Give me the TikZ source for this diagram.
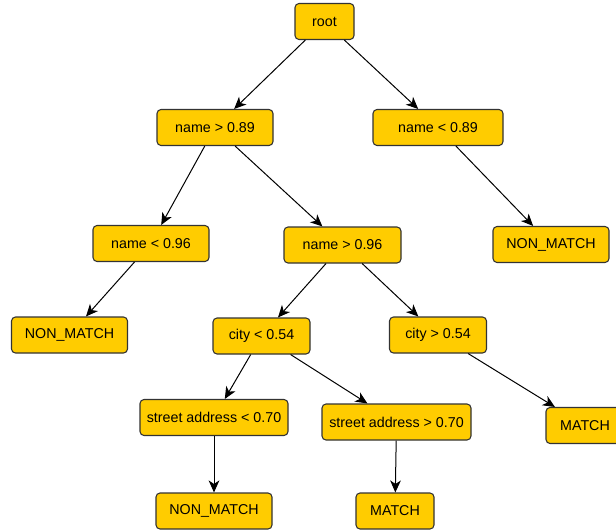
\documentclass[tikz,border=0pt]{standalone}
\usepackage{fontspec}
\setmainfont{Liberation Sans}
\usetikzlibrary{arrows.meta}
\definecolor{gold}{HTML}{FFCC00}
\definecolor{rim}{HTML}{333333}

\begin{document}
\begin{tikzpicture}[x=0.75pt,y=-0.75pt,>={Stealth[length=9pt,width=8pt,inset=2.6pt]},
    box/.style={draw=rim,fill=gold,rounded corners=3pt,line width=0.8pt,
      minimum height=27pt,inner sep=0pt,font=\fontsize{10.7}{12.8}\selectfont},
    edge/.style={->,line width=0.75pt,black}]
      \useasboundingbox (0,0) rectangle (616,531);

      % nodes
      \node[box,minimum width=44.25pt] (root) at (324.5,21.5) {root};
      \node[box,minimum width=87pt] (nameHi) at (215,127.5) {name > 0.89};
      \node[box,minimum width=97.5pt] (nameLo) at (438,127.5) {name < 0.89};
      \node[box,minimum width=87pt] (nameLoB) at (151,243.5) {name < 0.96};
      \node[box,minimum width=87.75pt] (nameHiB) at (342.5,245) {name > 0.96};
      \node[box,minimum width=87pt] (nonA) at (551,244.5) {NON\_MATCH};
      \node[box,minimum width=87pt] (nonB) at (69.5,335) {NON\_MATCH};
      \node[box,minimum width=72.75pt] (cityLo) at (261.5,336) {city < 0.54};
      \node[box,minimum width=72.75pt] (cityHi) at (438,335) {city > 0.54};
      \node[box,minimum width=111pt] (streetLo) at (214,417.5) {street address < 0.70};
      \node[box,minimum width=111.75pt] (streetHi) at (396.5,422) {street address > 0.70};
      \node[box,minimum width=87pt] (nonC) at (214,511) {NON\_MATCH};
      \node[box,minimum width=58.5pt] (matchA) at (395,511) {MATCH};
      \node[box,minimum width=58.5pt] (matchB) at (585,425.5) {MATCH};

      % edges
      \draw[edge] (root) -- (nameHi);
      \draw[edge] (root) -- (nameLo);
      \draw[edge] (nameHi) -- (nameLoB);
      \draw[edge] (nameHi) -- (nameHiB);
      \draw[edge] (nameLo) -- (nonA);
      \draw[edge] (nameLoB) -- (nonB);
      \draw[edge] (nameHiB) -- (cityLo);
      \draw[edge] (nameHiB) -- (cityHi);
      \draw[edge] (cityLo) -- (streetLo);
      \draw[edge] (cityLo) -- (streetHi);
      \draw[edge] (cityHi) -- (matchB);
      \draw[edge] (streetLo) -- (nonC);
      \draw[edge] (streetHi) -- (matchA);
\end{tikzpicture}
\end{document}
